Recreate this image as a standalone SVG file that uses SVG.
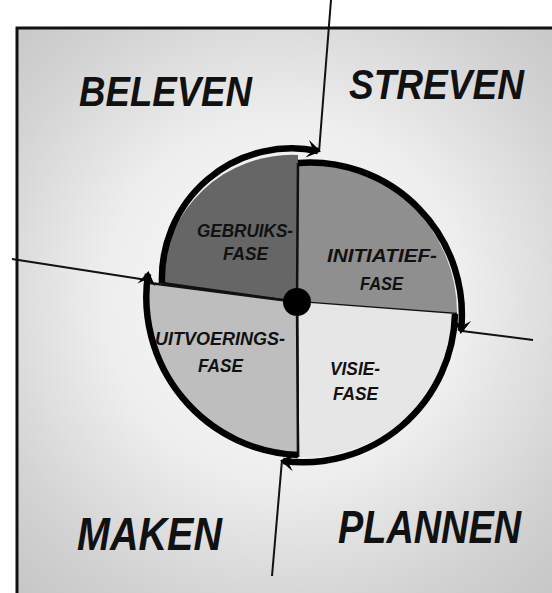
<svg xmlns="http://www.w3.org/2000/svg" width="552" height="593" viewBox="0 0 552 593">
<style>
.big{font-family:"Liberation Sans",Arial,sans-serif;font-weight:bold;font-style:italic;font-size:42px;fill:#111}
.lbl{font-family:"Liberation Sans",Arial,sans-serif;font-weight:bold;font-style:italic;font-size:18px;fill:#111}
.rad{stroke:#111;stroke-width:2.5;fill:none}
.rim{stroke:#000;stroke-width:6.5;fill:none;marker-end:url(#ah)}
.axis{stroke:#111;stroke-width:2;fill:none}
</style>
<defs>
<radialGradient id="bg" cx="285" cy="300" r="400" gradientUnits="userSpaceOnUse">
<stop offset="0" stop-color="#fbfbfb"/>
<stop offset="0.45" stop-color="#eeeeee"/>
<stop offset="0.8" stop-color="#d2d2d2"/>
<stop offset="1" stop-color="#c6c6c6"/>
</radialGradient>
<marker id="ah" markerUnits="userSpaceOnUse" viewBox="-14 -11 18 22" refX="0" refY="0" markerWidth="18" markerHeight="22" orient="auto">
<path d="M3,0 L-11,-9 L-5,0 L-11,9 Z" fill="#000"/>
</marker>
</defs>
<rect x="0" y="0" width="552" height="593" fill="#fff"/>
<rect x="17" y="28" width="560" height="600" fill="url(#bg)" stroke="#111" stroke-width="3"/>

<g id="connectors">
<line class="axis" x1="331" y1="0" x2="319" y2="152"/>
<line class="axis" x1="12" y1="259" x2="147" y2="280"/>
<line class="axis" x1="462" y1="331" x2="533" y2="340"/>
<line class="axis" x1="282" y1="460" x2="272" y2="576"/>
</g>

<g id="gebruiksfase">
<path d="M297,302 L162,283 A130,130 0 0 1 298,155 Z" fill="#666"/>
<path class="rad" d="M162,283 L297,302"/>
<path class="rim" d="M162,283 A130,130 0 0 1 318,151"/>
<text class="lbl" x="197" y="237" textLength="96" lengthAdjust="spacingAndGlyphs">GEBRUIKS-</text>
<text class="lbl" x="223" y="260" textLength="45" lengthAdjust="spacingAndGlyphs">FASE</text>
</g>

<g id="initiatieffase">
<path d="M297,302 L298,163 A150,150 0 0 1 457,314 Z" fill="#8f8f8f"/>
<path class="rad" d="M298,163 L297,302 L457,314"/>
<path class="rim" d="M298,163 A152,152 0 0 1 461,331"/>
<text class="lbl" x="327" y="262" textLength="110" lengthAdjust="spacingAndGlyphs">INITIATIEF-</text>
<text class="lbl" x="360" y="290" textLength="43" lengthAdjust="spacingAndGlyphs">FASE</text>
</g>

<g id="visiefase">
<path d="M297,302 L455,314 A150,150 0 0 1 298,457 Z" fill="#e6e6e6"/>
<path class="rad" d="M297,302 L298,457"/>
<path class="rim" d="M455,314 A152,152 0 0 1 283,461"/>
<text class="lbl" x="330" y="375" textLength="50" lengthAdjust="spacingAndGlyphs">VISIE-</text>
<text class="lbl" x="333" y="400" textLength="45" lengthAdjust="spacingAndGlyphs">FASE</text>
</g>

<g id="uitvoeringsfase">
<path d="M297,302 L298,457 A158,158 0 0 1 150,283 Z" fill="#bebebe"/>
<path class="rad" d="M150,283 L297,302 L298,457"/>
<path class="rim" d="M298,455 A158,158 0 0 1 148,274"/>
<text class="lbl" x="155" y="345" textLength="130" lengthAdjust="spacingAndGlyphs">UITVOERINGS-</text>
<text class="lbl" x="198" y="372" textLength="45" lengthAdjust="spacingAndGlyphs">FASE</text>
</g>

<g id="center">
<circle cx="297" cy="302" r="14" fill="#000"/>
</g>

<g id="beleven"><text class="big" x="79" y="106" textLength="173" lengthAdjust="spacingAndGlyphs">BELEVEN</text></g>
<g id="streven"><text class="big" x="349" y="99" textLength="175" lengthAdjust="spacingAndGlyphs">STREVEN</text></g>
<g id="maken"><text class="big" x="77" y="550" textLength="145" lengthAdjust="spacingAndGlyphs" style="font-size:46px">MAKEN</text></g>
<g id="plannen"><text class="big" x="338" y="543" textLength="183" lengthAdjust="spacingAndGlyphs" style="font-size:46px">PLANNEN</text></g>
</svg>
